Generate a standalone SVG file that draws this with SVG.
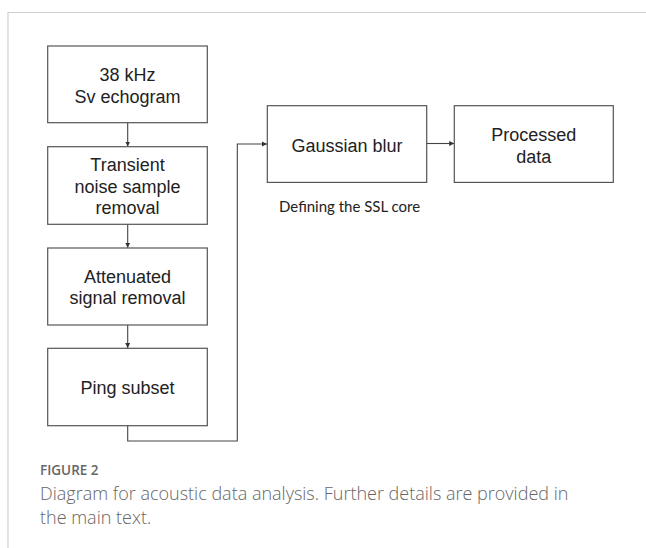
<svg xmlns="http://www.w3.org/2000/svg" width="646" height="548" viewBox="0 0 646 548">
<defs>
<marker id="ah" markerWidth="6" markerHeight="6" refX="5" refY="3" orient="auto" markerUnits="userSpaceOnUse">
<path d="M0,0.5 L5,3 L0,5.5 Z" fill="#333"/>
</marker>
<style>
.box{fill:#fff;stroke:#555;stroke-width:1.2}
.t{font-family:"Liberation Sans",Arial,sans-serif;font-size:18px;fill:#222;text-anchor:middle}
.c{fill:none;stroke:#444;stroke-width:1.1}
.frame{stroke:#d0d0d0;stroke-width:1.2;fill:none}
.cap{font-family:"Open Sans",sans-serif;fill:#666}
</style>
</defs>
<rect width="646" height="548" fill="#fff"/>
<path class="frame" d="M8,548 L8,12.5 L646,12.5"/>
<g id="connectors">
<line class="c" x1="127.7" y1="122.7" x2="127.7" y2="146.5" marker-end="url(#ah)"/>
<line class="c" x1="127.7" y1="224.3" x2="127.7" y2="247.8" marker-end="url(#ah)"/>
<line class="c" x1="127.7" y1="325" x2="127.7" y2="348" marker-end="url(#ah)"/>
<polyline class="c" points="127.7,425.7 127.7,441 237.3,441 237.3,144 267,144" marker-end="url(#ah)"/>
<line class="c" x1="426.7" y1="143.5" x2="454.2" y2="143.5" marker-end="url(#ah)"/>
</g>
<g id="n1">
<rect class="box" x="47.7" y="46" width="159.6" height="76.7"/>
<text class="t" x="127.5" y="80.7">38 kHz</text>
<text class="t" x="127.5" y="103">Sv echogram</text>
</g>
<g id="n2">
<rect class="box" x="47.7" y="146.7" width="159.6" height="77.6"/>
<text class="t" x="127.5" y="170.7">Transient</text>
<text class="t" x="127.5" y="192.5">noise sample</text>
<text class="t" x="127.5" y="214.3">removal</text>
</g>
<g id="n3">
<rect class="box" x="47.7" y="248" width="159.6" height="77"/>
<text class="t" x="127.5" y="282.7">Attenuated</text>
<text class="t" x="127.5" y="304.3">signal removal</text>
</g>
<g id="n4">
<rect class="box" x="47.7" y="348.3" width="159.6" height="77.4"/>
<text class="t" x="127.5" y="394">Ping subset</text>
</g>
<g id="n5">
<rect class="box" x="267.3" y="105.7" width="159.4" height="76.7"/>
<text class="t" x="347" y="151.7">Gaussian blur</text>
</g>
<g id="n6">
<rect class="box" x="454.3" y="105.7" width="159" height="76.7"/>
<text class="t" x="533.8" y="140.7">Processed</text>
<text class="t" x="533.8" y="162.7">data</text>
</g>
<text x="279" y="211.5" font-family="Lato, 'Open Sans', sans-serif" font-size="15" fill="#222">Defining the SSL core</text>
<text class="cap" x="40" y="475" font-size="13.5" font-weight="600">FIGURE 2</text>
<text class="cap" x="40" y="500.3" font-size="18" font-weight="300">Diagram for acoustic data analysis. Further details are provided in</text>
<text class="cap" x="40" y="523.7" font-size="18" font-weight="300">the main text.</text>
</svg>
